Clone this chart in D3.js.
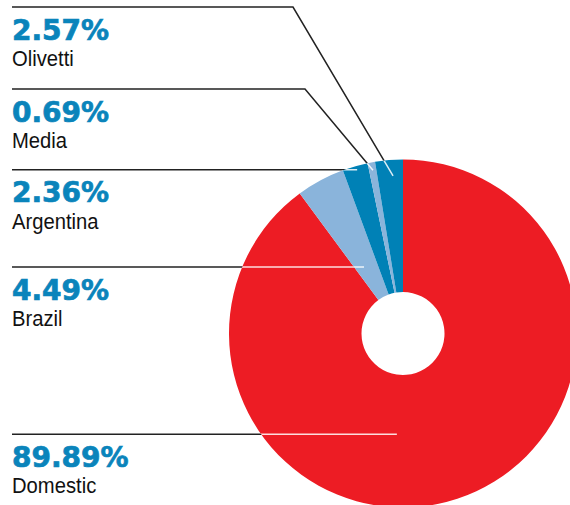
<!DOCTYPE html>
<html>
<head>
<meta charset="utf-8">
<script src="https://cdn.jsdelivr.net/npm/d3@7"></script>
<style>
  html, body { margin: 0; padding: 0; background: #fff; }
  svg { display: block; }
</style>
</head>
<body>
<svg id="chart" width="570" height="505"></svg>
<script>
// clockwise from 12 o'clock
const categories = ['Domestic', 'Brazil', 'Argentina', 'Media', 'Olivetti']
const shares = [89.89, 4.49, 2.36, 0.69, 2.57]
const shareLabels = ['89.89%', '4.49%', '2.36%', '0.69%', '2.57%']
const sliceColors = ['#ed1c24', '#8ab4db', '#0081b6', '#8ab4db', '#0081b6']

// leader tip: fraction through the slice angle, distance from centre
const tipFrac = [0.567, 0.37, 0.54, 0.53, 0.61]
const tipRadius = [101, 77, 170, 166, 158]
// label rule for the two diagonal leaders (others sit on the tip)
const elbow = {Media: {x: 305, y: 89}, Olivetti: {x: 293, y: 7}}

const W = 570, H = 505
const cx = 403, cy = 333.5
const R = 174, r0 = 41.5
const labelX = 12
const blue = '#0a84bb'

const data = categories.map((c, i) => ({
    name: c, share: shares[i], label: shareLabels[i], color: sliceColors[i],
    frac: tipFrac[i], rad: tipRadius[i]
}))

const pie = d3.pie()
    .sort(null)
    .value(d => d.share)

const arc = d3.arc()
    .innerRadius(r0)
    .outerRadius(R)

const arcs = pie(data)

const tipOf = a => {
    const ang = a.startAngle + a.data.frac * (a.endAngle - a.startAngle)
    return [cx + a.data.rad * Math.sin(ang), cy - a.data.rad * Math.cos(ang)]
}

const leaderPoints = a => {
    const tip = tipOf(a)
    const e = elbow[a.data.name]
    if (e)
        return [[labelX, e.y], [e.x, e.y], tip]
    return [[labelX, tip[1]], tip]
}

const line = d3.line()

const svg = d3.select('#chart')

svg.append('defs')
    .append('clipPath')
    .attr('id', 'pieClip')
    .append('circle')
    .attr('cx', cx)
    .attr('cy', cy)
    .attr('r', R)

// black leaders below the pie
svg.append('g')
    .selectAll('path')
    .data(arcs)
    .join('path')
    .attr('d', a => line(leaderPoints(a)))
    .attr('fill', 'none')
    .attr('stroke', '#222')
    .attr('stroke-width', 1.5)

svg.append('g')
    .attr('transform', `translate(${cx},${cy})`)
    .selectAll('path')
    .data(arcs)
    .join('path')
    .attr('d', arc)
    .attr('fill', a => a.data.color)

// the part of each leader over the pie shows white
svg.append('g')
    .attr('clip-path', 'url(#pieClip)')
    .selectAll('path')
    .data(arcs)
    .join('path')
    .attr('d', a => line(leaderPoints(a)))
    .attr('fill', 'none')
    .attr('stroke', '#fff')
    .attr('stroke-opacity', 0.85)
    .attr('stroke-width', 1.5)

const labels = svg.append('g')
    .selectAll('g')
    .data(arcs)
    .join('g')
    .attr('transform', a => `translate(${labelX},${leaderPoints(a)[0][1]})`)

labels.append('text')
    .attr('y', 32.5)
    .attr('fill', blue)
    .attr('stroke', blue)
    .attr('stroke-width', 0.7)
    .style('font-family', '"DejaVu Sans", sans-serif')
    .style('font-weight', 'bold')
    .style('font-size', '28px')
    .text(a => a.data.label)

labels.append('text')
    .attr('transform', 'translate(0,59) scale(0.92,1)')
    .attr('fill', '#111')
    .style('font-family', '"Liberation Sans", Arial, sans-serif')
    .style('font-size', '22px')
    .text(a => a.data.name)
</script>
</body>
</html>
